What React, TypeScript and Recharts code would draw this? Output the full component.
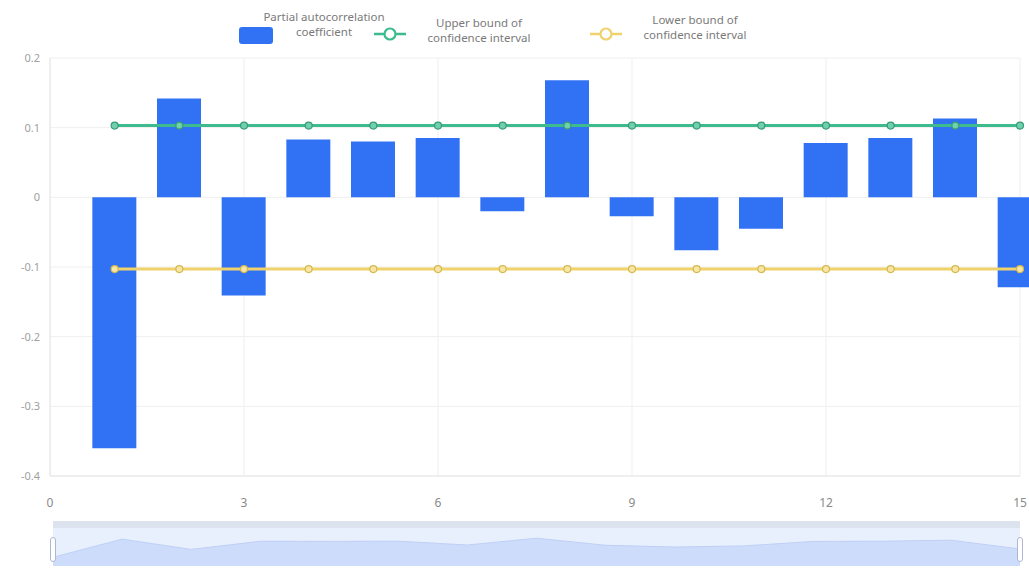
import React from "react";
import {
  ComposedChart,
  AreaChart,
  Area,
  Bar,
  Line,
  XAxis,
  YAxis,
  CartesianGrid,
} from "recharts";

// lag index and partial autocorrelation
const lags = [1, 2, 3, 4, 5, 6, 7, 8, 9, 10, 11, 12, 13, 14, 15];
const pacfValues = [-0.36, 0.142, -0.141, 0.083, 0.08, 0.085, -0.02, 0.168, -0.027, -0.076, -0.045, 0.078, 0.085, 0.113, -0.129];
const upperBound = [0.103, 0.103, 0.103, 0.103, 0.103, 0.103, 0.103, 0.103, 0.103, 0.103, 0.103, 0.103, 0.103, 0.103, 0.103];
const lowerBound = [-0.103, -0.103, -0.103, -0.103, -0.103, -0.103, -0.103, -0.103, -0.103, -0.103, -0.103, -0.103, -0.103, -0.103, -0.103];
const xTicks = [0, 3, 6, 9, 12, 15];
const yTicks = [-0.4, -0.3, -0.2, -0.1, 0, 0.1, 0.2];

const BAR = "#3172f4";
const GREEN = "#3dbb8e";
const YELLOW = "#efd26c";
const FONT = "'Noto Sans', 'Open Sans', sans-serif";

const data = lags.map((lag, i) => ({
  lag,
  pacf: pacfValues[i],
  upper: upperBound[i],
  lower: lowerBound[i],
}));

function LineIcon({ color }: { color: string }) {
  return (
    <svg width={32} height={16} style={{ display: "block" }}>
      <line x1={0} y1={8} x2={32} y2={8} stroke={color} strokeWidth={2.5} />
      <circle cx={16} cy={8} r={5.5} fill="#fff" stroke={color} strokeWidth={2.2} />
    </svg>
  );
}

const labelStyle: React.CSSProperties = {
  position: "absolute",
  transform: "translateX(-50%)",
  fontSize: 11.5,
  color: "#7a7a7a",
  lineHeight: "15px",
  textAlign: "center",
  whiteSpace: "nowrap",
};

function Legend() {
  return (
    <div style={{ position: "absolute", top: 0, left: 0, width: 1029, height: 50, fontFamily: FONT }}>
      <div style={{ position: "absolute", left: 239, top: 27, width: 34, height: 17, background: BAR, borderRadius: 3 }} />
      <div style={{ ...labelStyle, left: 324, top: 9 }}>
        Partial autocorrelation
        <br />
        coefficient
      </div>
      <div style={{ position: "absolute", left: 374, top: 26 }}>
        <LineIcon color={GREEN} />
      </div>
      <div style={{ ...labelStyle, left: 479, top: 15 }}>
        Upper bound of
        <br />
        confidence interval
      </div>
      <div style={{ position: "absolute", left: 590, top: 26 }}>
        <LineIcon color={YELLOW} />
      </div>
      <div style={{ ...labelStyle, left: 695, top: 12 }}>
        Lower bound of
        <br />
        confidence interval
      </div>
    </div>
  );
}

function DataZoom() {
  const handle: React.CSSProperties = {
    position: "absolute",
    top: 16,
    width: 6,
    height: 25,
    background: "#fff",
    border: "1px solid #acb8d1",
    borderRadius: 3,
    boxSizing: "border-box",
  };
  return (
    <div style={{ position: "absolute", left: 53, top: 521, width: 967, height: 45, background: "#e8effd" }}>
      <div style={{ height: 7, background: "#dce3ef" }} />
      <AreaChart width={967} height={38} data={data} margin={{ top: 0, right: 0, bottom: 0, left: 0 }}>
        <XAxis dataKey="lag" hide />
        <YAxis hide domain={[-0.6, 0.45]} />
        <Area
          type="linear"
          dataKey="pacf"
          stroke="#bfd0f6"
          strokeWidth={1}
          fill="#cddcfa"
          fillOpacity={1}
          baseValue="dataMin"
          isAnimationActive={false}
        />
      </AreaChart>
      <div style={{ ...handle, left: -3 }} />
      <div style={{ ...handle, right: -3 }} />
    </div>
  );
}

export default function App() {
  return (
    <div style={{ position: "absolute", left: 0, top: 0, width: 1029, height: 568, background: "#fff", overflow: "hidden" }}>
      <Legend />
      <div style={{ position: "absolute", left: 0, top: 0 }}>
        <ComposedChart
          width={1029}
          height={520}
          data={data}
          margin={{ top: 58, right: 9, bottom: 0, left: 0 }}
          style={{ fontFamily: FONT }}
        >
          <CartesianGrid stroke="#efefef" />
          <XAxis
            dataKey="lag"
            type="number"
            domain={[0, 15]}
            ticks={xTicks}
            height={44}
            tickSize={0}
            tickMargin={22}
            axisLine={{ stroke: "#e6e6e6" }}
            tick={{ fontSize: 12, fill: "#8a8a8a" }}
          />
          <YAxis
            type="number"
            domain={[-0.4, 0.2]}
            ticks={yTicks}
            width={50}
            tickSize={0}
            tickMargin={10}
            axisLine={{ stroke: "#e6e6e6" }}
            tick={{ fontSize: 11, fill: "#a0a0a0" }}
          />
          <Line type="linear" dataKey="upper" stroke={GREEN} strokeWidth={3} dot={false} isAnimationActive={false} />
          <Line type="linear" dataKey="lower" stroke={YELLOW} strokeWidth={3} dot={false} isAnimationActive={false} />
          <Bar dataKey="pacf" fill={BAR} barSize={44} isAnimationActive={false} />
          <Line
            type="linear"
            dataKey="upper"
            stroke="none"
            dot={{ r: 3.5, fill: "#6fd0ad", stroke: "#3a9a76", strokeWidth: 1.2 }}
            isAnimationActive={false}
          />
          <Line
            type="linear"
            dataKey="lower"
            stroke="none"
            dot={{ r: 3.5, fill: "#f7e6a6", stroke: "#d6b84f", strokeWidth: 1.2 }}
            isAnimationActive={false}
          />
        </ComposedChart>
      </div>
      <DataZoom />
    </div>
  );
}
